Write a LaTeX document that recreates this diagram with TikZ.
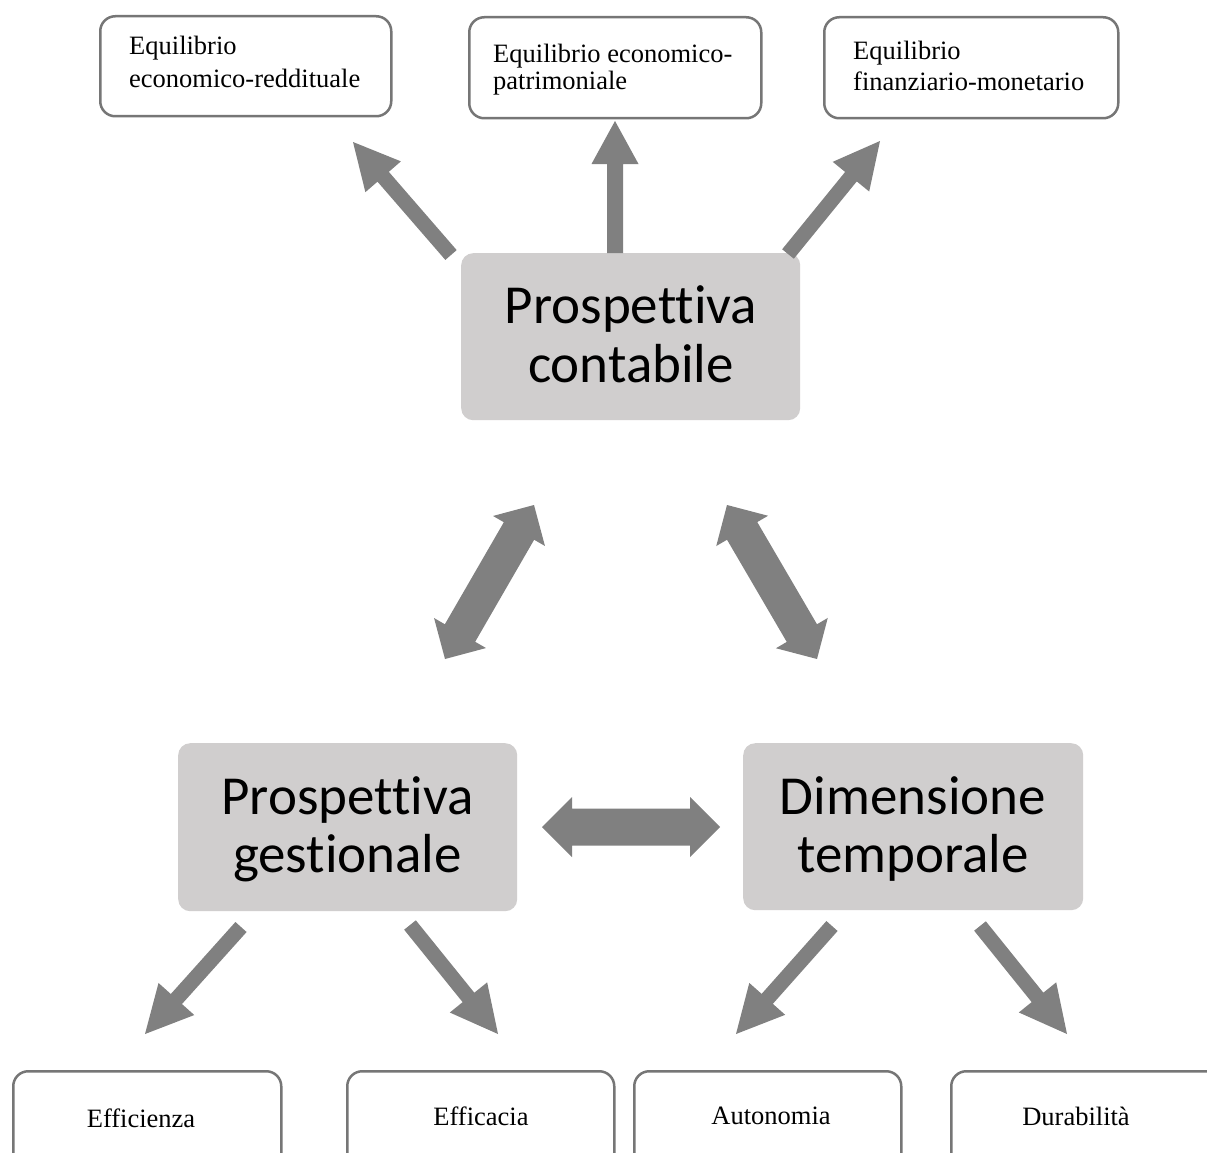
\documentclass[tikz,border=0pt]{standalone}
\usepackage{fontspec}
\setmainfont{Liberation Serif}
\newfontfamily\boxsans{Carlito}[RawFeature={-liga}]
\usetikzlibrary{calc}
\definecolor{grayfill}{HTML}{D0CECE}
\definecolor{arrowgray}{HTML}{808080}
\definecolor{boxline}{HTML}{767676}

% single block arrow: #1 tail, #2 tip, #3 half shaft, #4 half head, #5 head length
\newcommand\blockarrow[5]{%
  \path let \p1=($(#2)-(#1)$), \n1={atan2(\y1,\x1)}, \n2={veclen(\x1,\y1)} in
    \pgfextra{\xdef\baAngle{\n1}\xdef\baLen{\n2}};
  \fill[arrowfill, shift={(#1)}, rotate=\baAngle]
    (0pt,-#3) -- ({\baLen-#5},-#3) -- ({\baLen-#5},-#4) -- ({\baLen+0pt},0pt)
    -- ({\baLen-#5},#4) -- ({\baLen-#5},#3) -- (0pt,#3) -- cycle;
}
% double block arrow between #1 and #2
\newcommand\dblarrow[5]{%
  \path let \p1=($(#2)-(#1)$), \n1={atan2(\y1,\x1)}, \n2={veclen(\x1,\y1)} in
    \pgfextra{\xdef\baAngle{\n1}\xdef\baLen{\n2}};
  \fill[arrowfill, shift={(#1)}, rotate=\baAngle]
    (0pt,0pt) -- (#5,#4) -- (#5,#3) -- ({\baLen-#5},#3) -- ({\baLen-#5},#4)
    -- ({\baLen+0pt},0pt) -- ({\baLen-#5},-#4) -- ({\baLen-#5},-#3)
    -- (#5,-#3) -- (#5,-#4) -- cycle;
}

\begin{document}
\begin{tikzpicture}[x=1pt,y=-1pt,
  whitebox/.style={draw=boxline, line width=2.5pt, rounded corners=15pt, fill=white, inner sep=0pt, anchor=north west},
  graybox/.style={fill=grayfill, rounded corners=12pt, inner sep=0pt, anchor=north west},
  smalltxt/.style={font=\fontsize{26.5}{31}\selectfont, inner sep=0pt},
  bigtxt/.style={font=\boxsans\fontsize{55}{59}\selectfont, inner sep=0pt, anchor=base},
  arrowfill/.style={fill=arrowgray}]

\useasboundingbox (0,0) rectangle (1207,1153);
\fill[white] (0,0) rectangle (1207,1153);
\clip (0,0) rectangle (1207,1153);

% top row
\node[whitebox, minimum width=291pt, minimum height=100pt] (eqr) at (99,15) {};
\node[whitebox, minimum width=292pt, minimum height=101pt] (eqp) at (468,16) {};
\node[whitebox, minimum width=294pt, minimum height=101pt] (efm) at (823,16) {};
\node[smalltxt, anchor=base west] (eqr1) at (129,55) {Equilibrio};
\node[smalltxt, anchor=base west] (eqr2) at (129,88) {economico-reddituale};
\node[smalltxt, anchor=base west] (eqp1) at (493,63) {Equilibrio economico-};
\node[smalltxt, anchor=base west] (eqp2) at (493,90) {patrimoniale};
\node[smalltxt, anchor=base west] (efm1) at (853,60) {Equilibrio};
\node[smalltxt, anchor=base west] (efm2) at (853,91) {finanziario-monetario};

% central perspectives
\node[graybox, minimum width=339pt, minimum height=167pt] (cont) at (461,253) {};
\node[bigtxt] (cont1) at (631,323) {Prospettiva};
\node[bigtxt] (cont2) at (631,382) {contabile};

\node[graybox, minimum width=339pt, minimum height=168pt] (gest) at (178,743) {};
\node[bigtxt] (gest1) at (347.5,814) {Prospettiva};
\node[bigtxt] (gest2) at (347.5,872) {gestionale};

\node[graybox, minimum width=340pt, minimum height=167pt] (temp) at (743,743) {};
\node[bigtxt] (temp1) at (913,814) {Dimensione};
\node[bigtxt] (temp2) at (913,872) {temporale};

% bottom row
\node[whitebox, minimum width=268pt, minimum height=110pt] (eff) at (12,1070) {};
\node[whitebox, minimum width=267pt, minimum height=110pt] (efc) at (346,1070) {};
\node[whitebox, minimum width=267pt, minimum height=110pt] (aut) at (633,1070) {};
\node[whitebox, minimum width=270pt, minimum height=110pt] (dur) at (950,1070) {};
\node[smalltxt, anchor=base] (eff1) at (141,1127) {Efficienza};
\node[smalltxt, anchor=base] (efc1) at (481,1125) {Efficacia};
\node[smalltxt, anchor=base] (aut1) at (771,1124) {Autonomia};
\node[smalltxt, anchor=base] (dur1) at (1076,1125) {Durabilità};

% arrow ends
\coordinate (a1s) at (451,255); \coordinate (a1e) at (353,142);
\coordinate (a2s) at (615,253); \coordinate (a2e) at (615,121);
\coordinate (a3s) at (788,254); \coordinate (a3e) at (880,141);
\coordinate (d1s) at (445,659); \coordinate (d1e) at (534,505);
\coordinate (d2s) at (727,505); \coordinate (d2e) at (817,659);
\coordinate (d3s) at (542,827); \coordinate (d3e) at (720,827);
\coordinate (b1s) at (241,927); \coordinate (b1e) at (145,1034);
\coordinate (b2s) at (410,925); \coordinate (b2e) at (498,1034);
\coordinate (b3s) at (832,926); \coordinate (b3e) at (736,1034);
\coordinate (b4s) at (980,926); \coordinate (b4e) at (1067,1034);

\blockarrow{a1s}{a1e}{7.5pt}{23.5pt}{46pt}
\blockarrow{a2s}{a2e}{8pt}{23.5pt}{43pt}
\blockarrow{a3s}{a3e}{7.5pt}{23.5pt}{46pt}

\dblarrow{d1s}{d1e}{17.5pt}{30pt}{30pt}
\dblarrow{d2s}{d2e}{17.5pt}{30pt}{30pt}
\dblarrow{d3s}{d3e}{18.5pt}{30pt}{30pt}

\blockarrow{b1s}{b1e}{7.5pt}{24pt}{47pt}
\blockarrow{b2s}{b2e}{7.5pt}{24pt}{47pt}
\blockarrow{b3s}{b3e}{7.5pt}{24pt}{47pt}
\blockarrow{b4s}{b4e}{7.5pt}{24pt}{47pt}

\end{tikzpicture}
\end{document}
